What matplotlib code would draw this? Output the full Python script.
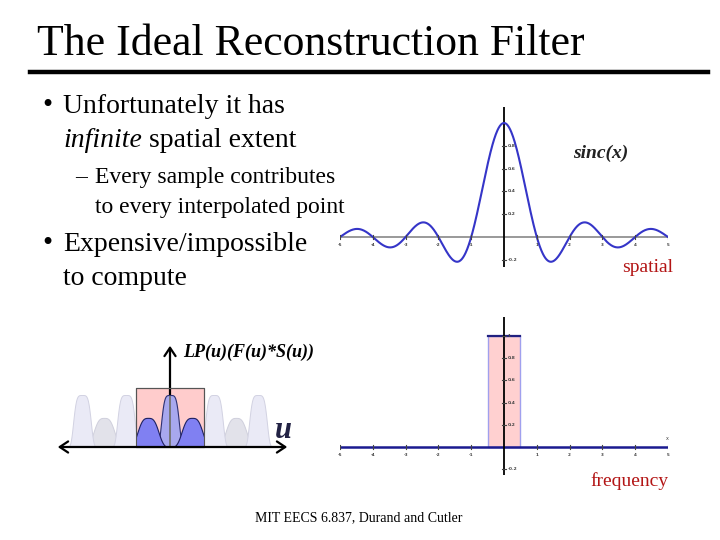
import numpy as np
import matplotlib
matplotlib.use("Agg")
import matplotlib.pyplot as plt
from matplotlib.patches import Rectangle, FancyArrowPatch

# ---------------- data ----------------
title = "The Ideal Reconstruction Filter"
bullets = ["Unfortunately it has", "Expensive/impossible"]
sinc_x_range = [-5, 5]
sinc_yticks = [0.2, 0.4, 0.6, 0.8, -0.2]
box_xticks = [-5, -4, -3, -2, -1, 1, 2, 3, 4, 5]
box_yticks = [0.2, 0.4, 0.6, 0.8, 1, -0.2]
box_edges = [-0.5, 0.5]
box_height = 1.0
tall_centers = [-2, -1, 0, 1, 2]
short_centers = [-1.5, -0.5, 0.5, 1.5]
tall_height = 1.0
short_height = 0.56
lp_box = [-0.77, 0.78]
lp_box_height = 1.13

W, H = 720, 540
fig = plt.figure(figsize=(7.2, 5.4), dpi=100)
SERIF = ["Liberation Serif", "DejaVu Serif"]
RED = "#b31515"


def fx(px):
    return px / W


def fy(py):
    return 1 - py / H


def axes_px(l, t, r, b):
    return fig.add_axes([fx(l), fy(b), (r - l) / W, (b - t) / H])


# ---------------- slide text ----------------
fig.text(fx(37), fy(55), title, family=SERIF, fontsize=31.5, va="baseline")
fig.add_artist(plt.Line2D([fx(30), fx(708)], [fy(72), fy(72)], color="black", lw=3.2))

fig.text(fx(42), fy(113), "•", family=SERIF, fontsize=21, va="baseline")
fig.text(fx(63), fy(113), bullets[0], family=SERIF, fontsize=20, va="baseline")
fig.text(fx(63), fy(147), "infinite", family=SERIF, fontsize=20, style="italic", va="baseline")
fig.text(fx(149), fy(147), "spatial extent", family=SERIF, fontsize=20, va="baseline")
fig.text(fx(75), fy(183), "–", family=SERIF, fontsize=17, va="baseline")
fig.text(fx(95), fy(183), "Every sample contributes", family=SERIF, fontsize=17, va="baseline")
fig.text(fx(95), fy(213), "to every interpolated point", family=SERIF, fontsize=17, va="baseline")
fig.text(fx(42), fy(251), "•", family=SERIF, fontsize=21, va="baseline")
fig.text(fx(63), fy(251), bullets[1], family=SERIF, fontsize=20, va="baseline")
fig.text(fx(63), fy(285), "to compute", family=SERIF, fontsize=20, va="baseline")

fig.text(fx(573), fy(158), "sinc(x)", family=SERIF, fontsize=14, style="italic",
         weight="bold", color="#222222", va="baseline")
fig.text(fx(622), fy(272), "spatial", family=SERIF, fontsize=14, color=RED, va="baseline")
fig.text(fx(590), fy(486), "frequency", family=SERIF, fontsize=14, color=RED, va="baseline")
fig.text(fx(255), fy(521), "MIT EECS 6.837, Durand and Cutler", family=SERIF,
         fontsize=10, va="baseline")

# ---------------- sinc plot ----------------
ax1 = axes_px(340, 107, 668, 267)
x = np.linspace(sinc_x_range[0], sinc_x_range[1], 801)
ax1.set_xlim(sinc_x_range)
y0 = 237
ax1.set_ylim(-(267 - y0) / 114, (y0 - 107) / 114)
ax1.axis("off")
ax1.axhline(0, color="#888888", lw=1.2)
ax1.axvline(0, color="black", lw=1.3)
ax1.plot(x, np.sinc(x), color="#3535c8", lw=1.5)
for t in range(-5, 6):
    if t == 0:
        continue
    ax1.plot([t, t], [-0.015, 0.015], color="#444444", lw=0.8)
    ax1.text(t, -0.05, str(t), fontsize=3, ha="center", va="top", weight="bold", color="#444444")
for t in sinc_yticks:
    ax1.plot([-0.06, 0.06], [t, t], color="#444444", lw=0.8)
    ax1.text(0.12, t, f"{t:.1f}", fontsize=3.2, ha="left", va="center", weight="bold", color="#444444")

# ---------------- box plot ----------------
ax2 = axes_px(340, 317, 668, 475)
z0 = 447
ax2.set_xlim(-5, 5)
ax2.set_ylim(-(475 - z0) / 111, (z0 - 317) / 111)
ax2.axis("off")
ax2.add_patch(Rectangle((box_edges[0], 0), box_edges[1] - box_edges[0], box_height,
                        facecolor="#ffd0d0", edgecolor="#a0a0ee", lw=1.0))
ax2.plot(box_edges, [box_height, box_height], color="#202080", lw=1.6)
ax2.axhline(0, color="#1a1a90", lw=1.8)
ax2.axvline(0, color="black", lw=1.3)
for t in box_xticks:
    ax2.plot([t, t], [-0.015, 0.015], color="#444444", lw=0.8)
    ax2.text(t, -0.05, str(t), fontsize=3, ha="center", va="top", weight="bold", color="#444444")
for t in box_yticks:
    ax2.plot([-0.06, 0.06], [t, t], color="#444444", lw=0.8)
    lab = "1" if t == 1 else f"{t:.1f}"
    ax2.text(0.12, t, lab, fontsize=3.2, ha="left", va="center", weight="bold", color="#444444")
ax2.text(4.92, 0.05, "x", fontsize=3.5, ha="left", va="bottom", color="#444444")

# ---------------- LP diagram ----------------
ax3 = axes_px(40, 330, 300, 460)
ux = 44.0
uy = 52.0
ax3.set_xlim((40 - 170) / ux, (300 - 170) / ux)
ax3.set_ylim(-(460 - 447) / uy, (447 - 330) / uy)
ax3.axis("off")

box = Rectangle((lp_box[0], 0), lp_box[1] - lp_box[0], lp_box_height,
                facecolor="#ffcccc", edgecolor="#555555", lw=0.8, zorder=1)
ax3.add_patch(box)


def tall_shape(c, h):
    u = np.linspace(c - 0.36, c + 0.36, 240)
    return u, h * np.exp(-np.abs((u - c) / 0.215) ** 4.5)


def short_shape(c, h):
    u = np.linspace(c - 0.38, c + 0.38, 240)
    return u, h * np.exp(-np.abs((u - c) / 0.27) ** 3.2)


# pale replicas (everywhere)
for c in short_centers:
    u, v = short_shape(c, short_height)
    ax3.fill_between(u, 0, v, color="#e2e2ea", ec="#cfcfdc", lw=0.7, zorder=2)
for c in tall_centers:
    u, v = tall_shape(c, tall_height)
    ax3.fill_between(u, 0, v, color="#eaeaf6", ec="#d2d2e2", lw=0.7, zorder=2)

# low-passed part (inside the box)
clip = Rectangle((lp_box[0], 0), lp_box[1] - lp_box[0], lp_box_height,
                 transform=ax3.transData, fill=False)
u, v = tall_shape(0, tall_height)
p = ax3.fill_between(u, 0, v, color="#a8a8ee", ec="#303070", lw=0.8, zorder=3)
p.set_clip_path(clip)
for c in short_centers:
    u, v = short_shape(c, short_height)
    p = ax3.fill_between(u, 0, v, color="#8080f2", ec="#202060", lw=0.8, zorder=4)
    p.set_clip_path(clip)
ax3.add_patch(Rectangle((lp_box[0], 0), lp_box[1] - lp_box[0], lp_box_height,
                        fill=False, edgecolor="#555555", lw=0.8, zorder=5))

# axes arrows
ax3.add_patch(FancyArrowPatch(((55 - 170) / ux, 0), ((290 - 170) / ux, 0),
                              arrowstyle="<->,head_length=6,head_width=4",
                              color="black", lw=1.6, zorder=6))
ax3.add_patch(FancyArrowPatch((0, 0), (0, (447 - 343) / uy),
                              arrowstyle="->,head_length=6,head_width=4",
                              color="black", lw=1.6, zorder=2.5))
ax3.plot([0, 0], [0, tall_height * 0.97], color="#777777", lw=1.4, zorder=5)
ax3.text(0.3, (447 - 352) / uy, "LP(u)(F(u)*S(u))", family=SERIF, fontsize=13,
         style="italic", weight="bold", ha="left", va="center", zorder=7)
ax3.text((275 - 170) / ux, (447 - 430) / uy, "u", family=SERIF, fontsize=22,
         style="italic", weight="bold", ha="left", va="center", color="#222244", zorder=7)

fig.savefig("out.png", dpi=100, facecolor="white")
